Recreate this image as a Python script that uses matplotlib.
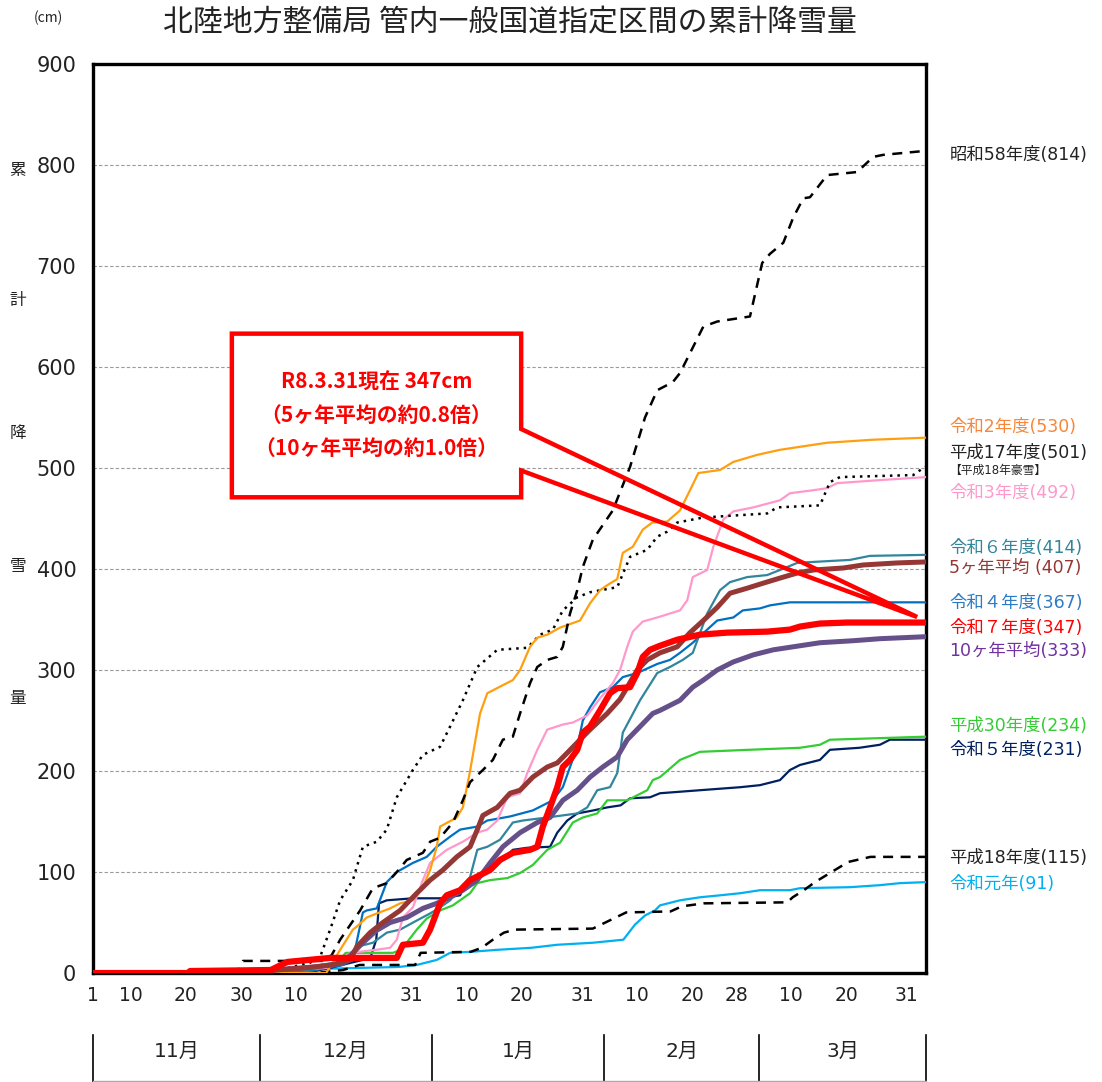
import numpy as np
import matplotlib
matplotlib.use('Agg')
import matplotlib.pyplot as plt
from matplotlib.patches import Rectangle, Polygon
from matplotlib.transforms import blended_transform_factory

plt.rcParams['font.family'] = ['Noto Sans CJK JP', 'DejaVu Sans']

# day index: 0 = 11/1, 150 = 3/31
s58_days = [0, 26, 27, 42, 43, 44.5, 48.1, 50.4, 52.9, 54.7, 56.5, 59.4, 60.7, 62.5, 64.8, 66.6, 67.9, 70.2, 72, 73.8,
            75.6, 76.9, 78.7, 80, 81.8, 83.6, 84.6, 85.9, 87.2, 88.2, 90, 93.6, 96.7, 99.4, 101.6, 104.4, 105.7,
            109.9, 112.4, 118.3, 120.5, 121.9, 124.3, 126.1, 127.9, 129.1, 132.2, 137.6, 140.5, 142.3, 150]
s58_vals = [0, 0, 12, 12, 18, 33, 62, 84, 89, 100, 112, 119, 130, 134, 149, 171, 189, 201, 211, 231,
            234, 257, 287, 303, 310, 313, 323, 356, 379, 402, 429, 458, 501, 550, 577, 585, 594,
            640, 645, 650, 703, 712, 723, 748, 767, 768, 790, 793, 808, 810, 814]

h18_days = [0, 40, 45, 48, 58, 59, 68, 70, 72, 74, 76, 90, 93, 96, 104, 106, 110, 125, 126, 128, 130, 133, 136, 140, 150]
h18_vals = [0, 0, 3, 8, 8, 20, 21, 25, 33, 40, 43, 44, 52, 60, 61, 66, 69, 70, 75, 82, 90, 100, 110, 115, 115]

h17_days = [0, 30, 35, 39, 40.9, 42.7, 44.5, 46.8, 47.5, 48.6, 51.1, 52.9, 54.7, 57.6, 59.4, 62.5, 64.3, 66.6, 69.2,
            72.8, 78.2, 80.5, 82.8, 84.6, 87.2, 89.5, 94.4, 96.7, 99.8, 101.6, 103.4, 105.2, 109.9, 121.4, 123.2,
            130.9, 132.7, 134.5, 147.7, 149.5, 150]
h17_vals = [0, 0, 5, 10, 16, 43, 72, 92, 105, 125, 130, 142, 174, 201, 216, 224, 244, 270, 303,
            320, 322, 335, 340, 359, 372, 377, 382, 412, 419, 432, 437, 446, 451, 455, 461,
            463, 486, 491, 493, 500, 501]

r2_days = [0, 42, 44.5, 46.8, 47.5, 49.3, 51.1, 53.5, 55.3, 57.6, 59.4, 60.7, 61.9, 62.5, 65.5, 66.6, 67.9, 69.7, 71,
           73.8, 75.6, 76.9, 78.7, 80, 81.8, 84.1, 87.7, 89.5, 91.3, 92.6, 94.4, 95.4, 97.2, 99, 100.7, 103.4,
           105.7, 107.5, 109, 112.9, 115.3, 119.6, 123.7, 132.2, 140.5, 150]
r2_vals = [0, 0, 23, 43, 46, 55, 59, 64, 69, 72, 85, 102, 125, 145, 154, 164, 200, 257, 277,
           285, 290, 300, 323, 332, 335, 342, 349, 366, 379, 384, 390, 416, 422, 439, 446, 447,
           458, 478, 495, 498, 506, 513, 518, 525, 528, 530]

r3_days = [0, 30, 35, 42, 44, 46.3, 51, 53.5, 54.7, 55.8, 57.6, 59.4, 60.7, 63.7, 66.6, 69.2, 71, 72.8, 74.6, 76.9,
           78.2, 80, 81.8, 84.6, 86.4, 89, 91.3, 93.6, 94.9, 96.2, 97.2, 99, 101.6, 105.7, 107, 108, 110.6, 111.7,
           113.5, 115.3, 118.9, 123.7, 125.5, 129.7, 132.2, 134, 141.7, 150]
r3_vals = [0, 0, 3, 5, 10, 20, 23, 25, 33, 55, 65, 92, 109, 122, 130, 139, 142, 151, 174, 178,
           198, 221, 241, 246, 248, 255, 272, 287, 300, 323, 338, 348, 352, 359, 369, 392, 399, 422,
           449, 457, 461, 468, 475, 478, 480, 485, 488, 491]

r6_days = [0, 30, 40, 45, 47.5, 50.4, 52.9, 55.3, 58.3, 60.7, 62.5, 64.3, 67.9, 69.2, 71, 73.3, 75.6, 77.4, 81.8, 87.2,
           89, 90.8, 93.1, 94.4, 95.4, 98.5, 101.6, 103.9, 106.2, 108, 110.6, 112.9, 114.7, 117.8, 121.4, 123.7,
           126.8, 129.7, 136.3, 139.9, 150]
r6_vals = [0, 0, 4, 10, 26, 30, 40, 43, 52, 59, 65, 72, 95, 122, 125, 132, 149, 151, 154, 158,
           164, 181, 184, 198, 238, 270, 297, 303, 310, 317, 356, 379, 387, 392, 394, 399,
           406, 407, 409, 413, 414]

avg5_days = [0, 28, 33, 38, 43, 46.3, 47.5, 49.9, 52.2, 55.3, 58.3, 60.7, 63, 65.5, 67.9, 69.2, 70.2, 72.8, 75.1,
             76.9, 79.2, 81.8, 83.6, 85.4, 87.7, 89.5, 92.6, 94.9, 96.2, 98, 99.8, 102.1, 105.2, 107.5, 109.9,
             112.4, 114.7, 117.8, 120.7, 123.7, 126.8, 129.7, 135.1, 138.7, 144.8, 150]
avg5_vals = [0, 0, 3, 5, 8, 13, 26, 40, 50, 62, 79, 92, 102, 115, 125, 142, 156, 164, 178,
             181, 194, 204, 208, 218, 231, 241, 257, 271, 283, 300, 310, 317, 323, 337, 349,
             362, 376, 381, 386, 391, 396, 399, 401, 404, 406, 407]

r4_days = [0, 30, 40, 45, 46.8, 48.6, 49.3, 51.1, 52.9, 54.7, 57.6, 60.1, 61.9, 64.3, 66.1, 69.2, 71, 75.1, 79.2, 81,
           82.8, 84.6, 85.9, 87.2, 88.2, 89.5, 91.3, 93.6, 95.4, 98, 101.6, 103.9, 105.7, 108, 110.6, 112.4, 115.3,
           117, 120.1, 121.9, 125.5, 150]
r4_vals = [0, 0, 3, 8, 13, 60, 62, 64, 90, 100, 109, 115, 125, 135, 142, 145, 151, 155, 161, 166,
           171, 184, 204, 224, 250, 263, 278, 283, 293, 297, 306, 310, 317, 327, 340, 349, 352,
           359, 361, 364, 367, 367]

r7_days = [0, 17, 17.5, 32, 35, 42.7, 54.7, 55.8, 59.4, 60.7, 62.5, 63.7, 66.1, 67.9, 71.5, 73.3, 75.6,
           78.7, 80, 81, 82.3, 83.6, 84.6, 85.9, 87.2, 88.2, 89.5, 91.3, 93.1, 94.4, 96.7, 98, 99, 100.3, 102.1,
           105.2, 109.3, 114.2, 121.4, 125.5, 127.3, 130.9, 135.8, 150]
r7_vals = [0, 0, 2, 3, 11, 15, 15, 28, 30, 43, 69, 77, 82, 92, 102, 112, 119,
           122, 125, 145, 164, 184, 204, 211, 221, 238, 244, 260, 277, 282, 283, 297, 313, 320, 324,
           330, 335, 337, 338, 340, 343, 346, 347, 347]

avg10_days = [0, 25, 30, 35, 40, 45, 48.6, 51, 53.5, 56.5, 59.4, 61.9, 64.3, 66.6, 69.2, 71.5, 73.8, 76.9, 80,
              82.3, 84.6, 87.2, 89.5, 91.8, 94.4, 96.2, 98.5, 100.8, 102.1, 105.7, 108, 109.9, 112.4, 115.3,
              118.9, 122.5, 126.1, 130.9, 136.9, 141.7, 150]
avg10_vals = [0, 0, 2, 4, 6, 10, 30, 42, 50, 55, 64, 69, 75, 82, 92, 109, 125, 139, 149,
              154, 171, 181, 194, 204, 214, 231, 244, 257, 260, 270, 283, 290, 300, 308,
              315, 320, 323, 327, 329, 331, 333]

h30_days = [0, 35, 40, 44, 45.5, 54, 55.5, 58.3, 60.1, 62.5, 64.8, 67.9, 69.2, 71.5, 74.6, 76.9, 79.2, 81.8, 84.1, 86.4,
            88.2, 90.8, 92.6, 96.2, 99.8, 100.8, 102.1, 105.7, 109.3, 118, 127.3, 130.9, 132.7, 150]
h30_vals = [0, 0, 3, 10, 20, 20, 23, 43, 54, 62, 67, 79, 89, 92, 94, 99, 107, 122, 129, 149,
            154, 158, 171, 171, 181, 191, 194, 211, 219, 221, 223, 226, 231, 234]

r5_days = [0, 30, 40, 42.7, 46.3, 48.6, 50, 51, 51.5, 52.9, 57.6, 63, 66.1, 66.8, 67.9, 71, 73.3, 75.6,
           78.2, 82.3, 83.6, 85.4, 87.2, 90.1, 92.6, 95, 96.7, 100.3, 102.1, 109.3, 116.6, 120.1, 123.7, 125.5,
           127.3, 130.9, 132.7, 138, 141.7, 143.5, 150]
r5_vals = [0, 0, 2, 5, 10, 13, 16, 33, 69, 72, 74, 74, 77, 85, 92, 100, 110, 122,
           124, 125, 139, 151, 158, 161, 164, 166, 173, 174, 178, 181, 184, 186, 191, 201,
           206, 211, 221, 223, 226, 231, 231]

r1_days = [0, 20, 25, 40, 55, 58.3, 61.9, 64.3, 68, 72.8, 78.9, 83.6, 90, 95.5, 97.6, 99.4, 101.2, 102.1, 105.7, 109.3,
           113, 116.5, 120.1, 125.5, 127.3, 136.3, 141.7, 145.3, 150]
r1_vals = [0, 0, 2, 4, 6, 8, 13, 20, 21, 23, 25, 28, 30, 33, 48, 57, 62, 67, 72, 75,
           77, 79, 82, 82, 84, 85, 87, 89, 90]

# x axis labels
tick_days = [0, 9, 19, 29, 39, 49, 60, 70, 80, 91, 101, 111, 119, 129, 139, 150]
tick_labels = ['1', '10', '20', '30', '10', '20', '31', '10', '20', '31', '10', '20', '28', '10', '20', '31']
month_edges = [0, 30, 61, 92, 120, 150]
month_names = ['11月', '12月', '1月', '2月', '3月']

fig = plt.figure(figsize=(11.02, 10.82), dpi=100)
ax = fig.add_axes([0.0844, 0.1007, 0.7559, 0.8402])

# (days, vals, color, lw, linestyle, z)
series = [
    (r1_days, r1_vals, '#00B0F0', 1.6, '-', 3),
    (h18_days, h18_vals, 'black', 1.8, (0, (4, 3)), 3),
    (r5_days, r5_vals, '#002060', 1.6, '-', 3),
    (h30_days, h30_vals, '#33CC33', 1.6, '-', 3),
    (r4_days, r4_vals, '#0070C0', 1.6, '-', 3),
    (r6_days, r6_vals, '#31859C', 1.6, '-', 3),
    (r3_days, r3_vals, '#FF99CC', 1.6, '-', 3),
    (h17_days, h17_vals, 'black', 1.8, (0, (1, 2)), 3),
    (r2_days, r2_vals, '#FF9F10', 1.6, '-', 3),
    (s58_days, s58_vals, 'black', 1.8, (0, (4, 3)), 3),
    (avg10_days, avg10_vals, '#66508A', 3.6, '-', 4),
    (avg5_days, avg5_vals, '#953735', 3.6, '-', 4),
    (r7_days, r7_vals, '#FF0000', 4.5, '-', 5),
]
for d, v, c, lw, ls, z in series:
    ax.plot(d, v, color=c, lw=lw, linestyle=ls, zorder=z, solid_joinstyle='round')

ax.set_xlim(0, 150)
ax.set_ylim(0, 900)
ax.set_yticks(np.arange(0, 901, 100))
ax.grid(axis='y', color='#9A9A9A', linestyle=(0, (3, 2)), linewidth=0.8)
ax.set_axisbelow(True)
for sp in ax.spines.values():
    sp.set_linewidth(2.4)
ax.tick_params(axis='y', length=0, labelsize=15, pad=12, colors='#222222')
tick_pos = [max(0, t * 0.991 - 2.1) for t in tick_days]
ax.set_xticks(tick_pos)
ax.set_xticklabels(tick_labels)
ax.tick_params(axis='x', length=0, labelsize=13.5, pad=9, colors='#222222')
for lb in ax.get_xticklabels() + ax.get_yticklabels():
    lb.set_fontfamily('DejaVu Sans')

# right side labels
lab_tr = blended_transform_factory(ax.transAxes, ax.transData)
labels = [
    ('昭和58年度(814)', 810, '#222222', 12.5),
    ('令和2年度(530)', 541, '#F7863A', 12.5),
    ('平成17年度(501)', 515, '#222222', 12.5),
    ('【平成18年豪雪】', 498, '#222222', 8.5),
    ('令和3年度(492)', 475, '#FF99CC', 12.5),
    ('令和６年度(414)', 421, '#31859C', 12.5),
    ('5ヶ年平均 (407)', 401, '#953735', 12.5),
    ('令和４年度(367)', 366, '#2E7BC4', 12.5),
    ('令和７年度(347)', 342, '#FF0000', 12.5),
    ('10ヶ年平均(333)', 319, '#7030A0', 12.5),
    ('平成30年度(234)', 245, '#33CC33', 12.5),
    ('令和５年度(231)', 221, '#002060', 12.5),
    ('平成18年度(115)', 114, '#222222', 12.5),
    ('令和元年(91)', 88, '#00B0F0', 12.5),
]
for txt, y, c, fs in labels:
    ax.text(1.028, y, txt, transform=lab_tr, color=c, fontsize=fs, va='center', ha='left', clip_on=False,
            family=['DejaVu Sans', 'Noto Sans CJK JP'])

# callout box with wedge
bx0, bx1, by0, by1 = 25, 77.1, 471, 633
tip = (148.4, 352.5)
ax.add_patch(Rectangle((bx0, by0), bx1 - bx0, by1 - by0, facecolor='white', edgecolor='none', zorder=6))
outline = [(bx1, 538.6), (bx1, by1), (bx0, by1), (bx0, by0), (bx1, by0), (bx1, 497.5), tip]
ax.add_patch(Polygon(outline, closed=True, facecolor='none', edgecolor='#FF0000', lw=3.2, zorder=6,
                     joinstyle='miter'))
ann = ['R8.3.31現在 347cm', '（5ヶ年平均の約0.8倍）', '（10ヶ年平均の約1.0倍）']
for txt, y in zip(ann, [585, 552, 519]):
    ax.text((bx0 + bx1) / 2, y, txt, color='#FF0000', fontsize=15, fontweight='bold', ha='center', va='center',
            zorder=7)

# month row
mt = blended_transform_factory(ax.transData, fig.transFigure)
for e in month_edges:
    ax.plot([e, e], [0.0, 0.0434], transform=mt, color='black', lw=1.2, clip_on=False)
ax.plot([0, 150], [0.001, 0.001], transform=mt, color='#AAAAAA', lw=1, clip_on=False)
for i, m in enumerate(month_names):
    ax.text((month_edges[i] + month_edges[i + 1]) / 2, 0.028, m, transform=mt, ha='center', va='center',
            fontsize=14.5, color='#222222', family=['DejaVu Sans', 'Noto Sans CJK JP'])

# titles
fig.text(0.463, 0.979, '北陸地方整備局 管内一般国道指定区間の累計降雪量', ha='center', va='center', fontsize=21.5,
         color='#222222')
fig.text(0.0436, 0.983, '(cm)', ha='center', va='center', fontsize=10, color='#222222')
for ch, yp in zip('累計降雪量', [170, 300, 433, 567, 698]):
    fig.text(0.0163, 1 - yp / 1082, ch, ha='center', va='center', fontsize=12, color='#222222')

fig.savefig('out.png', dpi=100)
